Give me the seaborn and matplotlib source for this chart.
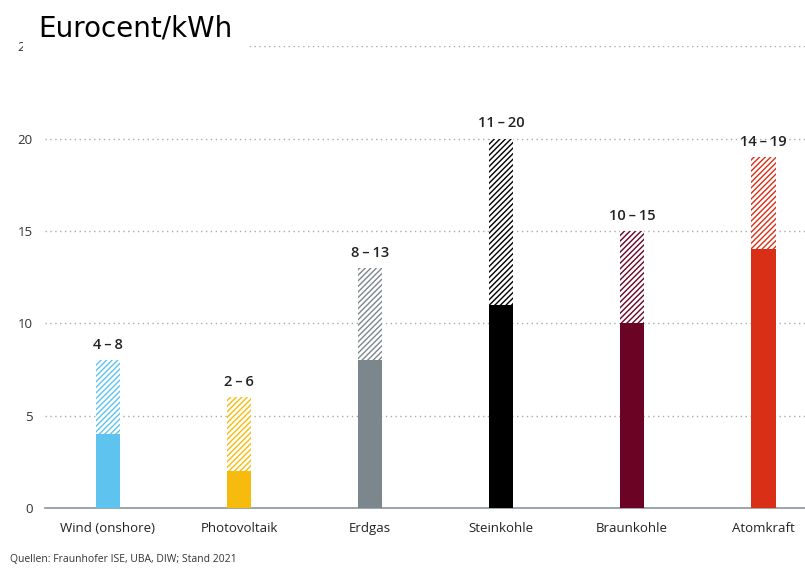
import pandas as pd
import seaborn as sns
import matplotlib.pyplot as plt

# Data
categories = ["Wind (onshore)", "Photovoltaik", "Erdgas", "Steinkohle", "Braunkohle", "Atomkraft"]
low_values = [4, 2, 8, 11, 10, 14]
high_values = [8, 6, 13, 20, 15, 19]
colors = ["#5ec4ef", "#f6bb0c", "#7b878d", "#000000", "#6b0324", "#da2f17"]
y_ticks = [0, 5, 10, 15, 20, 25]

df = pd.DataFrame({"Kategorie": categories, "low": low_values, "high": high_values})
palette = dict(zip(categories, colors))

sns.set_theme(style="white")
plt.rcParams["font.family"] = ["Open Sans", "DejaVu Sans"]
plt.rcParams["hatch.linewidth"] = 1.0

fig = plt.figure(figsize=(8.05, 5.77), dpi=100)
ax = fig.add_axes([0.056, 0.1196, 0.944, 0.8004])

# upper range (hatched)
sns.barplot(data=df, x="Kategorie", y="high", hue="Kategorie", palette=palette,
            saturation=1, legend=False, width=0.19, ax=ax, zorder=2)
for patch, c in zip(ax.patches, colors):
    patch.set_facecolor("white")
    patch.set_edgecolor(c)
    patch.set_linewidth(0)
    patch.set_hatch("//////")
n_high = len(ax.patches)

# lower value (solid)
sns.barplot(data=df, x="Kategorie", y="low", hue="Kategorie", palette=palette,
            saturation=1, legend=False, width=0.19, ax=ax, zorder=3)
for patch in ax.patches[n_high:]:
    patch.set_linewidth(0)

# range labels
for i, (lo, hi) in enumerate(zip(low_values, high_values)):
    ax.annotate(f"{lo}\u2009\u2013\u2009{hi}", (i, hi), xytext=(0, 6), textcoords="offset points",
                ha="center", va="bottom", fontsize=10.5, fontweight="semibold", color="#222222")

ax.set_ylim(0, 25)
ax.set_xlim(-0.48, 5.32)
ax.set_yticks(y_ticks)
ax.yaxis.grid(True, linestyle=(0, (1, 2.5)), color="#aaaaaa", linewidth=1)
ax.set_axisbelow(True)
ax.tick_params(axis="y", length=0, pad=9, labelsize=9.5, colors="#333333")
ax.tick_params(axis="x", length=0, pad=10, labelsize=9.5, colors="#222222")
ax.set_xlabel("")
ax.set_ylabel("")
for s in ["top", "right", "left"]:
    ax.spines[s].set_visible(False)
ax.spines["bottom"].set_color("#8a9599")
ax.spines["bottom"].set_linewidth(1.2)

fig.text(0.047, 0.950, "Eurocent/kWh", fontsize=20, family="DejaVu Sans", color="black",
         va="center", ha="left",
         bbox=dict(facecolor="white", edgecolor="none", pad=11))
fig.text(0.012, 0.03, "Quellen: Fraunhofer ISE, UBA, DIW; Stand 2021", fontsize=7.5,
         color="#333333", va="center", ha="left")

fig.savefig("out.png", dpi=100)
